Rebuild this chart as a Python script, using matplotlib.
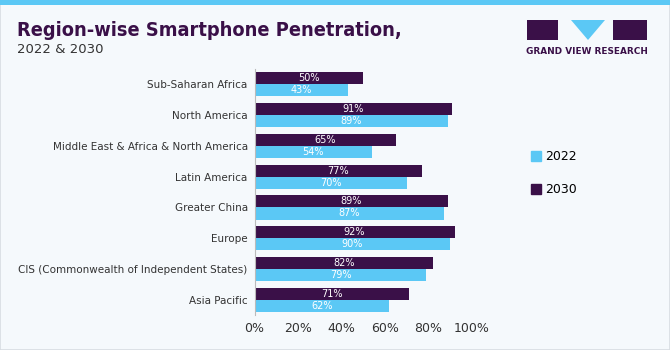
import matplotlib
matplotlib.use("Agg")
import matplotlib.pyplot as plt
import numpy as np
from matplotlib.patches import Rectangle, Polygon

categories = ["Sub-Saharan Africa", "North America", "Middle East & Africa & North America",
              "Latin America", "Greater China", "Europe",
              "CIS (Commonwealth of Independent States)", "Asia Pacific"]
values_2022 = [43, 89, 54, 70, 87, 90, 79, 62]
values_2030 = [50, 91, 65, 77, 89, 92, 82, 71]
xticks = [0, 20, 40, 60, 80, 100]
xtick_labels = ["0%", "20%", "40%", "60%", "80%", "100%"]

C22 = "#5bc8f5"
C30 = "#3a1048"
BG = "#f5f9fc"

fig = plt.figure(figsize=(6.7, 3.5), dpi=100)
fig.patch.set_facecolor(BG)

fig.patches.append(Rectangle((0, 0), 1, 1, transform=fig.transFigure, fill=False,
                             edgecolor="#d8dde2", linewidth=1.2))
fig.patches.append(Rectangle((0, 0.986), 1, 0.014, transform=fig.transFigure,
                             facecolor=C22, edgecolor="none"))

ax = fig.add_axes([0.38, 0.0986, 0.3245, 0.7054])
ax.set_facecolor(BG)
n = len(categories)
y = np.arange(n)
h = 0.39
b30 = ax.barh(y - h / 2, values_2030, height=h, color=C30, label="2030")
b22 = ax.barh(y + h / 2, values_2022, height=h, color=C22, label="2022")
for rect, v in zip(b30, values_2030):
    ax.text(rect.get_x() + rect.get_width() / 2, rect.get_y() + rect.get_height() / 2,
            f"{v}%", color="white", ha="center", va="center", fontsize=7)
for rect, v in zip(b22, values_2022):
    ax.text(rect.get_x() + rect.get_width() / 2, rect.get_y() + rect.get_height() / 2,
            f"{v}%", color="white", ha="center", va="center", fontsize=7)

ax.set_ylim(n - 0.5, -0.5)
ax.set_xlim(0, 100)
ax.set_yticks(y)
ax.set_yticklabels(categories, fontsize=7.5, color="#333333")
ax.set_xticks(xticks)
ax.set_xticklabels(xtick_labels, fontsize=9, color="#333333")
ax.tick_params(axis="both", length=0, pad=5)
for s in ["top", "right", "bottom"]:
    ax.spines[s].set_visible(False)
ax.spines["left"].set_color("#bbbbbb")

handles = [Rectangle((0, 0), 1, 1, color=C22), Rectangle((0, 0), 1, 1, color=C30)]
fig.legend(handles, ["2022", "2030"], loc="center left", bbox_to_anchor=(0.775, 0.505),
           frameon=False, fontsize=9, handlelength=0.8, handleheight=0.8,
           handletextpad=0.4, labelspacing=1.6)

fig.text(0.025, 0.912, "Region-wise Smartphone Penetration,", fontsize=14.3,
         fontweight="bold", color=C30, fontstretch="condensed",
         va="center", ha="left")
fig.text(0.025, 0.858, "2022 & 2030", fontsize=9.5, color="#333333", va="center", ha="left")

def fr(x0, y0, x1, y1):
    return (x0 / 670, 1 - y1 / 350), (x1 - x0) / 670, (y1 - y0) / 350

xy, w, hh = fr(527, 20, 558, 40)
fig.patches.append(Rectangle(xy, w, hh, transform=fig.transFigure, facecolor=C30, edgecolor="none"))
xy, w, hh = fr(613, 20, 647, 40)
fig.patches.append(Rectangle(xy, w, hh, transform=fig.transFigure, facecolor=C30, edgecolor="none"))
tri = [(571 / 670, 1 - 20 / 350), (605 / 670, 1 - 20 / 350), (588 / 670, 1 - 40 / 350)]
fig.patches.append(Polygon(tri, closed=True, transform=fig.transFigure, facecolor=C22, edgecolor="none"))
fig.text(587 / 670, 1 - 52 / 350, "GRAND VIEW RESEARCH", fontsize=6.4, fontweight="bold",
         color=C30, ha="center", va="center")

fig.savefig("out.png", dpi=100, facecolor=BG)
